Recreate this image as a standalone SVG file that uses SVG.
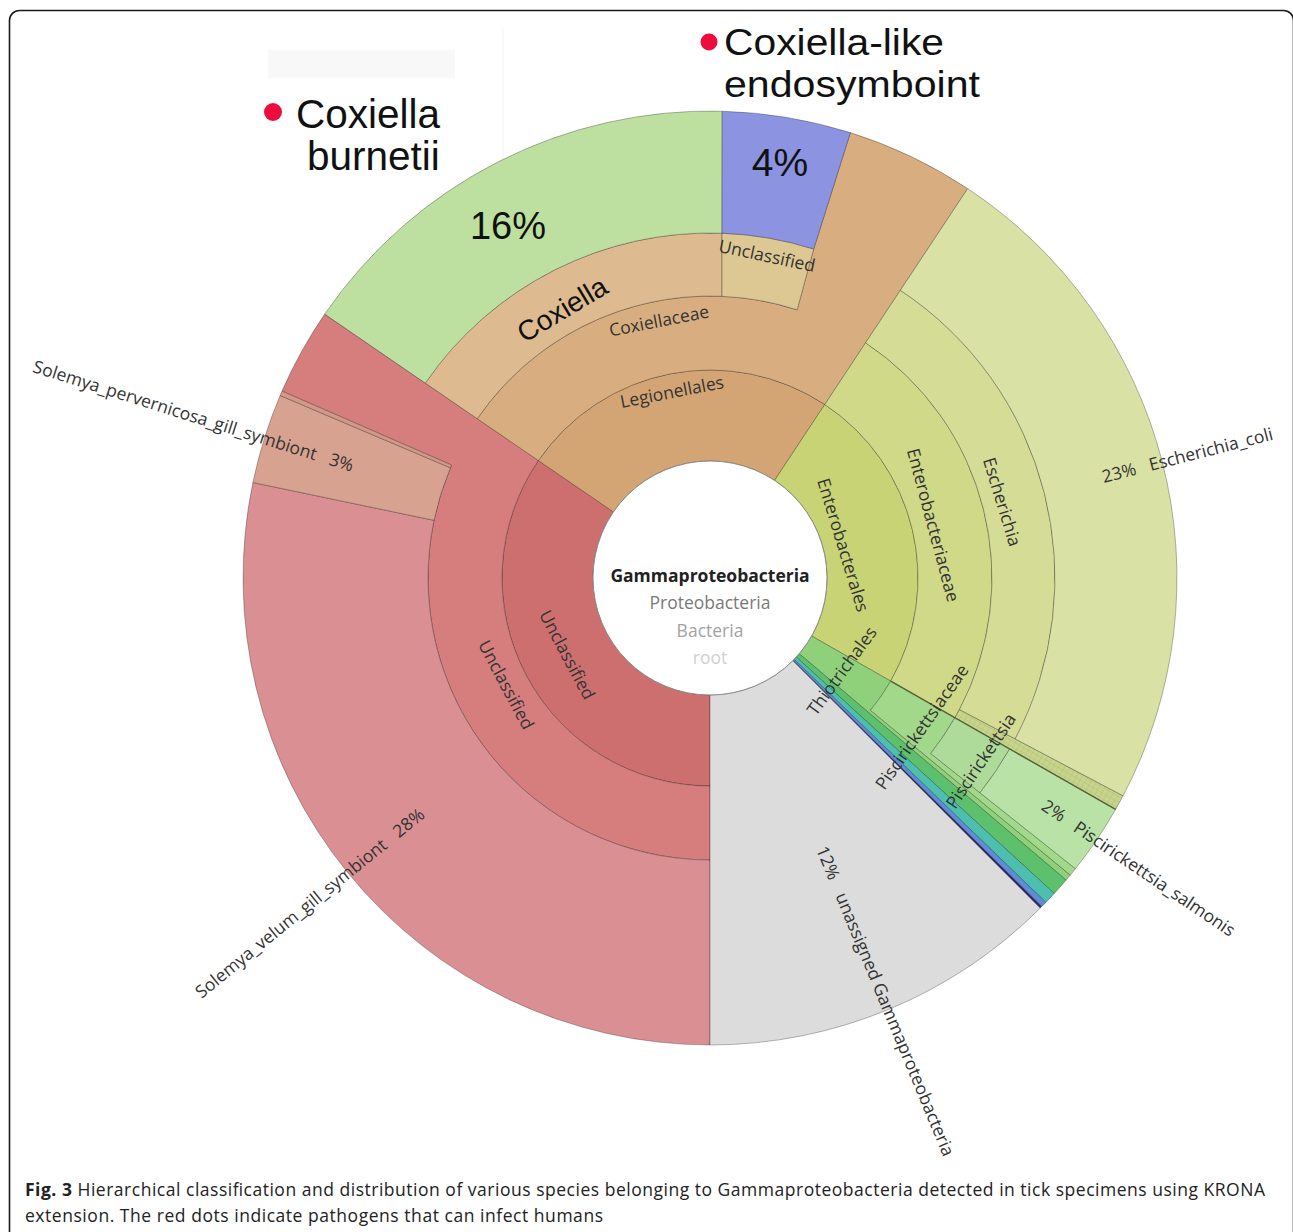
<svg xmlns="http://www.w3.org/2000/svg" width="1293" height="1232" viewBox="0 0 1293 1232">
<defs>
<style>
.seg{stroke:#000;stroke-opacity:.28;stroke-width:1;stroke-linejoin:round}
.lbl{font-family:"Open Sans","Noto Sans","DejaVu Sans",sans-serif;font-size:17.5px;fill:#333}
.big{font-family:"Liberation Sans",Arial,sans-serif;fill:#111}
.cap{font-family:"Open Sans","Noto Sans","DejaVu Sans",sans-serif;font-size:17.5px;fill:#222}
.dot{fill:#ec0d3c}
</style>
<pattern id="hatch" width="5" height="5" patternUnits="userSpaceOnUse" patternTransform="rotate(30)">
<rect width="5" height="5" fill="#c7d48c"/>
<path d="M0 0H5M0 0V5" stroke="#aebd6e" stroke-width="0.8"/>
</pattern>
</defs>
<rect width="1293" height="1232" fill="#fff"/>
<rect x="268" y="50" width="187" height="28" fill="#f8f8f8"/>
<line x1="503" y1="28" x2="503" y2="165" stroke="#f3f3f3" stroke-width="1"/>
<rect x="9.5" y="10.5" width="1284" height="1240" rx="10" fill="none" stroke="#1a1a1a" stroke-width="1.6"/>

<g id="unclassified-red-1">
<path class="seg" fill="#cd6f6f" d="M710 695 L710 786 A208 208 0 0 1 538.4 460.5 L613.5 511.9 A117 117 0 0 0 710 695 Z"/>
<text class="lbl" transform="translate(567,655) rotate(62)" text-anchor="middle" y="6">Unclassified</text>
</g>
<g id="unclassified-red-2">
<path class="seg" fill="#d57e7d" d="M710 786 L710 860 A282 282 0 0 1 451.6 465.1 L282 391.1 A467 467 0 0 1 324.7 314.1 L538.4 460.5 A208 208 0 0 0 710 786 Z"/>
<text class="lbl" transform="translate(506,685) rotate(62)" text-anchor="middle" y="6">Unclassified</text>
</g>
<g id="solemya-velum">
<path class="seg" fill="#da8f92" d="M710 860 L710 1045 A467 467 0 0 1 252.9 482.5 L434 520.3 A282 282 0 0 0 710 860 Z"/>
<g transform="translate(710,578) rotate(-39.1)"><text class="lbl" x="-371" y="6" text-anchor="end">Solemya_velum_gill_symbiont<tspan dx="14">28%</tspan></text></g>
</g>
<g id="solemya-pervernicosa">
<path class="seg" fill="#d8a291" d="M434 520.3 L252.9 482.5 A467 467 0 0 1 280.1 395.5 L450.4 467.8 A282 282 0 0 0 434 520.3 Z"/>
<path class="seg" fill="#d39887" d="M450.4 467.8 L280.1 395.5 A467 467 0 0 1 282 391.1 L451.6 465.1 A282 282 0 0 0 450.4 467.8 Z"/>
<g transform="translate(710,578) rotate(17.4)"><text class="lbl" x="-374" y="6" text-anchor="end">Solemya_pervernicosa_gill_symbiont<tspan dx="14">3%</tspan></text></g>
</g>

<g id="legionellales">
<path class="seg" fill="#d4a574" d="M613.5 511.9 L538.4 460.5 A208 208 0 0 1 824.8 404.5 L774.6 480.4 A117 117 0 0 0 613.5 511.9 Z"/>
<text class="lbl" transform="translate(672,392) rotate(-11)" text-anchor="middle" y="6">Legionellales</text>
</g>
<g id="coxiellaceae">
<path class="seg" fill="#d8ae80" d="M538.4 460.5 L477.3 418.7 A282 282 0 0 1 797.1 309.8 L813.7 249 L850.4 132.6 A467 467 0 0 1 967.7 188.6 L824.8 404.5 A208 208 0 0 0 538.4 460.5 Z"/>
<text class="lbl" transform="translate(659,321) rotate(-11)" text-anchor="middle" y="6">Coxiellaceae</text>
</g>
<g id="coxiella">
<path class="seg" fill="#ddba8f" d="M477.3 418.7 L425.3 383.1 A345 345 0 0 1 722 233.2 L722 296.3 A282 282 0 0 0 477.3 418.7 Z"/>
<text class="big" font-size="28" transform="translate(562,309) rotate(-31)" text-anchor="middle" y="10">Coxiella</text>
</g>
<g id="coxiella-unclassified">
<path class="seg" fill="#ddc893" d="M722 296.3 L722 233.2 A345 345 0 0 1 813.7 249 L797.1 309.8 A282 282 0 0 0 722 296.3 Z"/>
<text class="lbl" transform="translate(767,256) rotate(12)" text-anchor="middle" y="6">Unclassified</text>
</g>
<g id="coxiella-burnetii">
<path class="seg" fill="#bde0a0" d="M425.3 383.1 L324.7 314.1 A467 467 0 0 1 722.2 111.2 L722 233.2 A345 345 0 0 0 425.3 383.1 Z"/>
<text class="big" font-size="38" x="508" y="239" text-anchor="middle">16%</text>
</g>
<g id="coxiella-like-endosymbiont">
<path class="seg" fill="#8c93e0" d="M722 233.2 L722.2 111.2 A467 467 0 0 1 850.4 132.6 L813.7 249 A345 345 0 0 0 722 233.2 Z"/>
<text class="big" font-size="39" x="780" y="176" text-anchor="middle">4%</text>
</g>

<g id="enterobacterales">
<path class="seg" fill="#c7d375" d="M774.6 480.4 L824.8 404.5 A208 208 0 0 1 890.7 681.1 L811.6 636 A117 117 0 0 0 774.6 480.4 Z"/>
<text class="lbl" transform="translate(843,545) rotate(73)" text-anchor="middle" y="6">Enterobacterales</text>
</g>
<g id="enterobacteriaceae">
<path class="seg" fill="#cfd987" d="M824.8 404.5 L865.6 342.8 A282 282 0 0 1 954.9 717.7 L890.7 681.1 A208 208 0 0 0 824.8 404.5 Z"/>
<path class="seg" fill="url(#hatch)" d="M959.5 709.5 L1123.1 795.8 A467 467 0 0 1 1115.6 809.4 L954.9 717.7 A282 282 0 0 0 959.5 709.5 Z"/>
<text class="lbl" transform="translate(933,525) rotate(75)" text-anchor="middle" y="6">Enterobacteriaceae</text>
</g>
<g id="escherichia">
<path class="seg" fill="#d4dc95" d="M865.6 342.8 L900.4 290.3 A345 345 0 0 1 1015.2 738.9 L959.5 709.5 A282 282 0 0 0 865.6 342.8 Z"/>
<text class="lbl" transform="translate(1002,502) rotate(73)" text-anchor="middle" y="6">Escherichia</text>
</g>
<g id="escherichia-coli">
<path class="seg" fill="#d9e1a4" d="M900.4 290.3 L967.7 188.6 A467 467 0 0 1 1123.1 795.8 L1015.2 738.9 A345 345 0 0 0 900.4 290.3 Z"/>
<g transform="translate(710,578) rotate(-14.4)"><text class="lbl" x="405" y="6">23%<tspan dx="14">Escherichia_coli</tspan></text></g>
</g>

<g id="thiotrichales">
<path class="seg" fill="#8fd07a" d="M811.6 636 L890.7 681.1 A208 208 0 0 1 870.5 710.3 L1070.3 875.1 A467 467 0 0 1 1066.2 880.1 L799.2 653.7 A117 117 0 0 0 811.6 636 Z"/>
</g>
<g id="piscirickettsiaceae">
<path class="seg" fill="#a2d88a" d="M890.7 681.1 L954.9 717.7 A282 282 0 0 1 930.7 753.5 L1075.5 868.7 A467 467 0 0 1 1070.3 875.1 L870.5 710.3 A208 208 0 0 0 890.7 681.1 Z"/>
</g>
<g id="piscirickettsia">
<path class="seg" fill="#aedb9a" d="M954.9 717.7 L1009.7 748.9 A345 345 0 0 1 980 792.8 L930.7 753.5 A282 282 0 0 0 954.9 717.7 Z"/>
</g>
<g id="piscirickettsia-salmonis">
<path class="seg" fill="#b9e2a6" d="M1009.7 748.9 L1115.6 809.4 A467 467 0 0 1 1075.5 868.7 L980 792.8 A345 345 0 0 0 1009.7 748.9 Z"/>
<g transform="translate(710,578) rotate(34.1)"><text class="lbl" x="403" y="6">2%<tspan dx="14">Piscirickettsia_salmonis</tspan></text></g>
</g>
<g id="other-orders">
<path class="seg" fill="#5dc06c" d="M799.2 653.7 L1066.2 880.1 A467 467 0 0 1 1054.3 893.5 L796.3 657 A117 117 0 0 0 799.2 653.7 Z"/>
<path class="seg" fill="#4cbfae" d="M796.3 657 L1054.3 893.5 A467 467 0 0 1 1045.9 902.4 L794.2 659.3 A117 117 0 0 0 796.3 657 Z"/>
<path class="seg" fill="#5b8ed6" d="M794.2 659.3 L1045.9 902.4 A467 467 0 0 1 1041.9 906.5 L793.2 660.3 A117 117 0 0 0 794.2 659.3 Z"/>
<path fill="#2e2666" d="M793.2 660.3 L1041.9 906.5 A467 467 0 0 1 1040.2 908.2 L792.7 660.7 Z"/>
</g>
<g id="unassigned-gammaproteobacteria">
<path class="seg" fill="#dcdcdc" d="M792.7 660.7 L1040.2 908.2 A467 467 0 0 1 710 1045 L710 695 A117 117 0 0 0 792.7 660.7 Z"/>
<g transform="translate(710,578) rotate(67.5)"><text class="lbl" x="291" y="6">12%<tspan dx="16">unassigned Gammaproteobacteria</tspan></text></g>
</g>
<line x1="890.7" y1="681.1" x2="1115.6" y2="809.4" stroke="#56663a" stroke-width="1.4"/>
<g id="thiotrichales-labels">
<text class="lbl" transform="translate(842,671) rotate(-54)" text-anchor="middle" y="6">Thiotrichales</text>
<text class="lbl" transform="translate(922,727) rotate(-55)" text-anchor="middle" y="6">Piscirickettsiaceae</text>
<text class="lbl" transform="translate(981,761) rotate(-56)" text-anchor="middle" y="6">Piscirickettsia</text>
</g>

<g id="center">
<circle cx="710" cy="578" r="117" fill="#fff" stroke="#8a8a8a" stroke-width="1"/>
<text class="lbl" x="710" y="582" text-anchor="middle" style="font-weight:bold;fill:#222">Gammaproteobacteria</text>
<text class="lbl" x="710" y="609" text-anchor="middle" style="fill:#7a7a7a">Proteobacteria</text>
<text class="lbl" x="710" y="637" text-anchor="middle" style="fill:#a3a3a3">Bacteria</text>
<text class="lbl" x="710" y="664" text-anchor="middle" style="fill:#d0d0d0">root</text>
</g>

<g id="annotation-burnetii">
<circle class="dot" cx="273" cy="112" r="9"/>
<text class="big" font-size="40.5" x="296" y="128">Coxiella</text>
<text class="big" font-size="40.5" x="307" y="170">burnetii</text>
</g>
<g id="annotation-cle">
<circle class="dot" cx="709" cy="42" r="8.5"/>
<text class="big" font-size="37.5" x="724" y="55" textLength="220" lengthAdjust="spacingAndGlyphs">Coxiella-like</text>
<text class="big" font-size="37.5" x="724" y="97" textLength="256" lengthAdjust="spacingAndGlyphs">endosymboint</text>
</g>

<g id="caption">
<text class="cap" x="25" y="1196" textLength="1240" lengthAdjust="spacing"><tspan font-weight="bold">Fig. 3</tspan> Hierarchical classification and distribution of various species belonging to Gammaproteobacteria detected in tick specimens using KRONA</text>
<text class="cap" x="25" y="1222" textLength="578" lengthAdjust="spacing">extension. The red dots indicate pathogens that can infect humans</text>
</g>
</svg>
